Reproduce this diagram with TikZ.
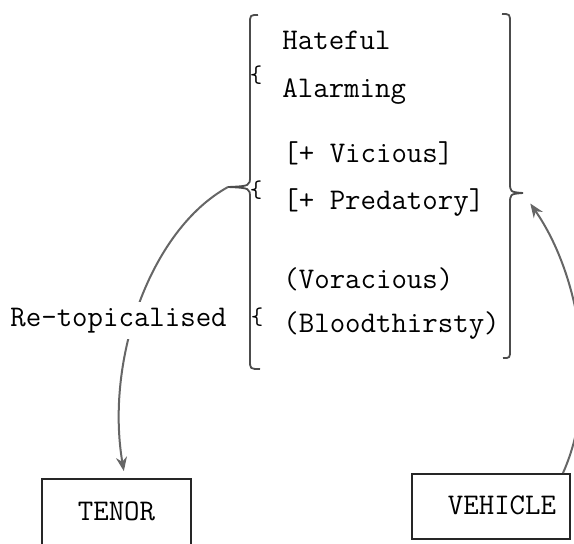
\documentclass[tikz,border=0pt]{standalone}
\usetikzlibrary{arrows.meta}

\tikzset{
  word/.style={font=\fontsize{15}{18}\selectfont\ttfamily, inner sep=0pt, anchor=base west},
  curly/.style={font=\fontsize{12}{14}\selectfont\ttfamily, inner sep=0pt},
  box/.style={draw=black!85, line width=1pt, font=\fontsize{15}{18}\selectfont\ttfamily,
    anchor=north, inner xsep=0pt, inner ysep=8pt},
  bracket/.style={draw=black!70, line width=0.9pt},
  link/.style={draw=black!60, line width=1pt, -{Stealth[length=7pt,width=5.5pt]}}
}

\begin{document}
\begin{tikzpicture}[x=0.5pt,y=-0.5pt]
  \path[use as bounding box, clip] (0,0) rectangle (574,543);

  % big brackets
  \draw[bracket] (258,15) .. controls (250,15) .. (250,24) -- (250,176)
    .. controls (250,186) .. (228,187) .. controls (250,188) .. (250,198)
    -- (250,360) .. controls (250,369) .. (260,369);
  \draw[bracket] (502,14) .. controls (510,14) .. (510,23) -- (510,182)
    .. controls (510,192) .. (523,193) .. controls (510,194) .. (510,204)
    -- (510,350) .. controls (510,358) .. (503,358);
  \coordinate (ltip) at (228,187);
  \coordinate (rtip) at (523,193);

  \node[box, minimum width=74.5pt, text height=12.5pt, text depth=12.5pt] (tenor) at (116.5,478) {TENOR};
  \node[box, minimum width=79pt, text height=12pt, text depth=4.5pt] (vehicle) at (491,473) {\hspace*{11pt}VEHICLE};

  \draw[link, shorten >=3.5pt] (ltip) .. controls (150,230) and (105,360) .. ([xshift=4.25pt]tenor.north);
  \draw[link, shorten >=6.4pt] ([xshift=-4pt]vehicle.north east) .. controls (600,390) and (580,275) .. (rtip);

  \node[word] (hateful) at (282,49) {Hateful};
  \node[word] (alarming) at (282,97) {Alarming};
  \node[word] (vicious) at (283,162) {[+ Vicious]};
  \node[word] (predatory) at (283,209) {[+ Predatory]};
  \node[word] (voracious) at (283,288) {(Voracious)};
  \node[word] (bloodthirsty) at (283,332) {(Bloodthirsty)};
  \node[word, fill=white, inner sep=3pt] (retop) at (4,326) {Re-topicalised};

  \node[curly] (c1) at (256,75) {\{};
  \node[curly] (c2) at (256,190) {\{};
  \node[curly] (c3) at (257,317) {\{};
\end{tikzpicture}
\end{document}
